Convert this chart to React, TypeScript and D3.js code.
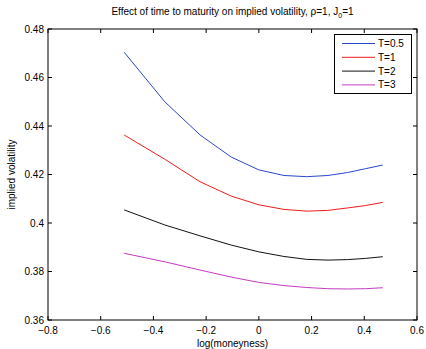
import React from "react";
import * as d3 from "d3";

// log(K/S) for K/S = 0.6 .. 1.6
const moneyness = [-0.511, -0.357, -0.223, -0.105, 0, 0.095, 0.182, 0.262, 0.336, 0.405, 0.47];

const volT05 = [0.4704, 0.4500, 0.4363, 0.4272, 0.4219, 0.4196, 0.4191, 0.4196, 0.4208, 0.4224, 0.4239];
const volT1 = [0.4363, 0.4263, 0.4170, 0.4111, 0.4075, 0.4056, 0.4049, 0.4052, 0.4062, 0.4072, 0.4085];
const volT2 = [0.4054, 0.3992, 0.3947, 0.3909, 0.3881, 0.3862, 0.3850, 0.3847, 0.3849, 0.3854, 0.3861];
const volT3 = [0.3875, 0.3840, 0.3806, 0.3777, 0.3755, 0.3742, 0.3734, 0.3729, 0.3728, 0.3729, 0.3733];

const seriesNames = ["T=0.5", "T=1", "T=2", "T=3"];
const seriesColors = ["#2a48c8", "#f01c1c", "#111111", "#c43cc4"];

const xTicks = [-0.8, -0.6, -0.4, -0.2, 0, 0.2, 0.4, 0.6];
const yTicks = [0.36, 0.38, 0.4, 0.42, 0.44, 0.46, 0.48];

const W = 426;
const H = 349;
const left = 48;
const right = 417;
const top = 29;
const bottom = 320;
const font = "'Liberation Sans', Arial, Helvetica, sans-serif";

const fmt = (v: number) => {
  const s = String(+v.toFixed(2));
  return s.replace("-", "\u2212");
};

export default function App() {
  const x = d3.scaleLinear().domain([-0.8, 0.6]).range([left, right]);
  const y = d3.scaleLinear().domain([0.36, 0.48]).range([bottom, top]);

  const series = [volT05, volT1, volT2, volT3];
  const line = d3
    .line<number>()
    .x((_, i) => x(moneyness[i]))
    .y((d) => y(d));

  const tl = 4;

  return (
    <svg
      width={W}
      height={H}
      style={{ position: "absolute", left: 0, top: 0, background: "#fff" }}
      fontFamily={font}
    >
      <rect x={0} y={0} width={W} height={H} fill="#fff" />

      {/* title */}
      <text x={(left + right) / 2} y={15} textAnchor="middle" fontSize={10} fill="#000">
        Effect of time to maturity on implied volatility,{" "}
        <tspan>ρ=1, J</tspan>
        <tspan dy={3} fontSize={7}>0</tspan>
        <tspan dy={-3}>=1</tspan>
      </text>

      {/* curves */}
      {series.map((s, i) => (
        <path key={i} d={line(s) || ""} fill="none" stroke={seriesColors[i]} strokeWidth={1} />
      ))}

      {/* ticks */}
      {xTicks.map((t) => (
        <g key={"x" + t}>
          <line x1={x(t)} x2={x(t)} y1={bottom} y2={bottom - tl} stroke="#000" />
          <line x1={x(t)} x2={x(t)} y1={top} y2={top + tl} stroke="#000" />
          <text x={x(t)} y={334} textAnchor="middle" fontSize={10} fill="#000">
            {fmt(t)}
          </text>
        </g>
      ))}
      {yTicks.map((t) => (
        <g key={"y" + t}>
          <line x1={left} x2={left + tl} y1={y(t)} y2={y(t)} stroke="#000" />
          <line x1={right} x2={right - tl} y1={y(t)} y2={y(t)} stroke="#000" />
          <text x={44} y={y(t) + 3.5} textAnchor="end" fontSize={10} fill="#000">
            {fmt(t)}
          </text>
        </g>
      ))}

      {/* axes box */}
      <rect
        x={left}
        y={top}
        width={right - left}
        height={bottom - top}
        fill="none"
        stroke="#000"
        strokeWidth={1}
      />

      {/* axis labels */}
      <text x={(left + right) / 2} y={347} textAnchor="middle" fontSize={10} fill="#000">
        log(moneyness)
      </text>
      <text
        transform={`translate(15,${(top + bottom) / 2}) rotate(-90)`}
        textAnchor="middle"
        fontSize={10}
        fill="#000"
      >
        implied volatility
      </text>

      {/* legend */}
      <g>
        <rect x={334.5} y={34.5} width={77} height={59} fill="#fff" stroke="#000" strokeWidth={1} />
        {seriesNames.map((n, i) => {
          const ly = 43.5 + i * 13.8;
          return (
            <g key={n}>
              <line x1={342} x2={375} y1={ly} y2={ly} stroke={seriesColors[i]} strokeWidth={1} />
              <text x={378} y={ly + 3.5} fontSize={10} fill="#000">
                {n}
              </text>
            </g>
          );
        })}
      </g>
    </svg>
  );
}
